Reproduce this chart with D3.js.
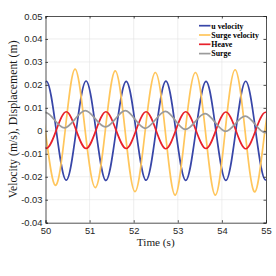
<!DOCTYPE html>
<html>
<head>
<meta charset="utf-8">
<script src="https://cdn.jsdelivr.net/npm/d3@7"></script>
<style>
  body { margin: 0; background: #fff; }
  svg { display: block; }
</style>
</head>
<body>
<svg id="chart" width="276" height="276"></svg>
<script>
// time stamps (s), one quarter period apart
const tU = [49.80, 50.02, 50.245, 50.47, 50.695, 50.92, 51.145, 51.37, 51.60, 51.83, 52.055, 52.28, 52.505,
            52.73, 52.955, 53.18, 53.41, 53.64, 53.865, 54.09, 54.315, 54.54, 54.765, 54.99, 55.215];
const uVelocity = [0, 0.0216, 0, -0.0215, 0, 0.0217, 0, -0.0216, 0, 0.0215, 0, -0.0215, 0,
                   0.0216, 0, -0.0216, 0, 0.0215, 0, -0.0216, 0, 0.0216, 0, -0.0214, 0];
const heave = [0.0003, -0.0076, 0.0003, 0.0083, 0.0003, -0.0077, 0.0003, 0.0083, 0.0003, -0.0077, 0.0003, 0.0083, 0.0003,
               -0.0078, 0.0003, 0.0083, 0.0003, -0.0077, 0.0003, 0.0082, 0.0003, -0.0078, 0.0002, 0.0081, 0.0002];

const tSurgeVel = [49.77, 49.995, 50.22, 50.445, 50.67, 50.90, 51.13, 51.355, 51.58, 51.805, 52.03, 52.26, 52.49,
                   52.715, 52.94, 53.17, 53.40, 53.625, 53.85, 54.075, 54.30, 54.525, 54.75, 54.975, 55.20];
const surgeVelocity = [0.0265, 0, -0.0237, 0, 0.0269, 0, -0.0247, 0, 0.0261, 0, -0.0265, 0, 0.0254,
                       0, -0.0280, 0, 0.0254, 0, -0.0280, 0, 0.0266, 0, -0.0266, 0, 0.0260];

const tSurge = [49.765, 49.99, 50.21, 50.43, 50.665, 50.90, 51.13, 51.36, 51.585, 51.81, 52.035, 52.26, 52.49,
                52.72, 52.945, 53.17, 53.395, 53.62, 53.85, 54.08, 54.305, 54.53, 54.755, 54.98, 55.205];
const surge = [0.0045, 0.0080, 0.0046, 0.0013, 0.0050, 0.0088, 0.0052, 0.0017, 0.0052, 0.0088, 0.0049, 0.0011, 0.0048,
               0.0085, 0.0045, 0.0006, 0.0040, 0.0075, 0.0036, -0.0002, 0.0031, 0.0064, 0.0028, -0.0008, 0.0027];

const seriesNames = ["u velocity", "Surge velocity", "Heave", "Surge"];
const seriesColors = ["#3846a8", "#ffc65c", "#e8212b", "#9b9b9b"];
const xTicks = [50, 51, 52, 53, 54, 55];
const yTicks = [-0.04, -0.03, -0.02, -0.01, 0, 0.01, 0.02, 0.03, 0.04, 0.05];

const plotLeft = 45.5, plotRight = 266, plotTop = 16, plotBottom = 222.7;
const axisColor = "#262626";

const svg = d3.select("#chart");

const x = d3.scaleLinear().domain([50, 55]).range([plotLeft, plotRight]);
const y = d3.scaleLinear().domain([-0.04, 0.05]).range([plotBottom, plotTop]);

// grid
svg.append("g").selectAll("line")
    .data(xTicks.slice(1, -1))
    .enter().append("line")
    .attr("x1", d => x(d)).attr("x2", d => x(d))
    .attr("y1", plotTop).attr("y2", plotBottom)
    .attr("stroke", "#e3e3e3").attr("stroke-width", 0.6);
svg.append("g").selectAll("line")
    .data(yTicks.slice(1, -1))
    .enter().append("line")
    .attr("x1", plotLeft).attr("x2", plotRight)
    .attr("y1", d => y(d)).attr("y2", d => y(d))
    .attr("stroke", "#e3e3e3").attr("stroke-width", 0.6);

svg.append("clipPath").attr("id", "plotclip")
    .append("rect")
    .attr("x", plotLeft).attr("y", plotTop)
    .attr("width", plotRight - plotLeft).attr("height", plotBottom - plotTop);

const line = d3.line()
    .x(d => x(d[0]))
    .y(d => y(d[1]))
    .curve(d3.curveNatural);

const series = [
    d3.zip(tU, uVelocity),
    d3.zip(tSurgeVel, surgeVelocity),
    d3.zip(tU, heave),
    d3.zip(tSurge, surge)
];

svg.append("g").attr("clip-path", "url(#plotclip)")
    .selectAll("path")
    .data(series)
    .enter().append("path")
    .attr("d", line)
    .attr("fill", "none")
    .attr("stroke", (d, i) => seriesColors[i])
    .attr("stroke-width", 1.7);

// axes (box, ticks inside)
const xAxisB = d3.axisBottom(x).tickValues(xTicks).tickSize(-2.5).tickPadding(5).tickFormat(d3.format("d"));
const xAxisT = d3.axisTop(x).tickValues(xTicks).tickSize(-2.5).tickFormat("");
const yAxisL = d3.axisLeft(y).tickValues(yTicks).tickSize(-2.5).tickPadding(3)
    .tickFormat(d => d === 0 ? "0" : d3.format(".2f")(d).replace("\u2212", "-"));
const yAxisR = d3.axisRight(y).tickValues(yTicks).tickSize(-2.5).tickFormat("");

function styleAxis(g) {
    g.select(".domain").attr("stroke", axisColor).attr("stroke-width", 0.8);
    g.selectAll(".tick line").attr("stroke", axisColor).attr("stroke-width", 0.8);
    g.selectAll(".tick text")
        .attr("fill", axisColor)
        .style("font-family", "'Liberation Sans', Arial, sans-serif")
        .style("font-size", "9.4px");
}

svg.append("g").attr("transform", `translate(0,${plotBottom})`).call(xAxisB).call(styleAxis);
svg.append("g").attr("transform", `translate(0,${plotTop})`).call(xAxisT).call(styleAxis);
svg.append("g").attr("transform", `translate(${plotLeft},0)`).call(yAxisL).call(styleAxis);
svg.append("g").attr("transform", `translate(${plotRight},0)`).call(yAxisR).call(styleAxis);

// axis labels
svg.append("text")
    .attr("x", (plotLeft + plotRight) / 2)
    .attr("y", 246)
    .attr("text-anchor", "middle")
    .style("font-family", "'Liberation Serif', 'Times New Roman', serif")
    .style("font-size", "11.2px")
    .attr("fill", "#1a1a1a")
    .text("Time (s)");

svg.append("text")
    .attr("transform", `translate(17,${(plotTop + plotBottom) / 2}) rotate(-90)`)
    .attr("text-anchor", "middle")
    .style("font-family", "'Liberation Serif', 'Times New Roman', serif")
    .style("font-size", "11.8px")
    .attr("fill", "#1a1a1a")
    .text("Velocity (m/s), Displacement (m)");

// legend
const legend = svg.append("g");
legend.append("rect")
    .attr("x", 197).attr("y", 20)
    .attr("width", 66).attr("height", 38)
    .attr("fill", "#fff");

const rows = legend.selectAll("g")
    .data(seriesNames)
    .enter().append("g")
    .attr("transform", (d, i) => `translate(199,${25.7 + i * 9.3})`);

rows.append("line")
    .attr("x1", 0).attr("x2", 11.5)
    .attr("y1", 0).attr("y2", 0)
    .attr("stroke", (d, i) => seriesColors[i])
    .attr("stroke-width", 1.7);

rows.append("text")
    .attr("x", 12.3)
    .attr("y", 2.8)
    .style("font-family", "'Liberation Serif', 'Times New Roman', serif")
    .style("font-size", "7.9px")
    .style("font-weight", "bold")
    .attr("fill", "#000")
    .text(d => d);
</script>
</body>
</html>
